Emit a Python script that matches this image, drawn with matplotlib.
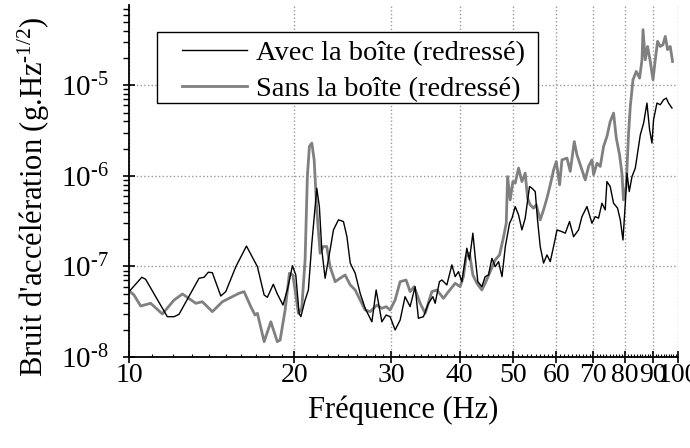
import numpy as np
import matplotlib
matplotlib.use("Agg")
import matplotlib.pyplot as plt
from matplotlib.patches import Rectangle
from matplotlib.ticker import FixedLocator, NullFormatter

plt.rcParams['font.family'] = ['Liberation Serif', 'DejaVu Serif']
plt.rcParams['mathtext.fontset'] = 'custom'
plt.rcParams['mathtext.rm'] = 'Liberation Serif'
plt.rcParams['mathtext.it'] = 'Liberation Serif:italic'

# spectre avec la boite (redresse)
freq_avec = [10.0, 10.55, 10.72, 11.74, 12.08, 12.33, 13.41, 13.70, 13.94, 14.18,
             14.69, 15.00, 15.65, 16.36, 17.13, 17.62, 17.86, 18.31, 18.62, 19.07,
             19.45, 19.84, 20.12, 20.40, 20.55, 20.92, 21.21, 21.52, 21.97, 22.21,
             22.44, 22.75, 23.23, 23.56, 24.06, 24.57, 24.93, 25.28, 25.81, 26.35,
             26.91, 27.68, 28.18, 28.86, 29.39, 29.88, 30.51, 31.16, 31.81, 32.49,
             33.18, 33.64, 34.36, 35.09, 35.74, 36.09, 36.74, 37.12, 37.90, 38.71,
             39.25, 39.79, 40.36, 41.22, 41.67, 42.27, 42.68, 43.16, 43.89, 44.51,
             45.13, 45.78, 46.42, 47.08, 47.76, 48.43, 49.30, 49.80, 50.48, 51.19,
             51.92, 52.64, 53.60, 54.14, 54.90, 55.43, 56.06, 56.85, 57.66, 58.47,
             59.46, 60.14, 61.41, 62.27, 63.39, 64.47, 65.83, 66.78, 68.19, 69.64,
             70.61, 71.59, 72.62, 73.62, 74.15, 75.18, 76.24, 77.53, 78.42, 79.31,
             80.09, 80.66, 81.43, 82.37, 83.52, 85.29, 86.48, 87.70, 88.67, 89.56,
             90.16, 91.45, 92.73, 94.02, 95.09, 96.01, 97.39]
bruit_avec = [5.27e-8, 7.60e-8, 7.22e-8, 2.79e-8, 2.79e-8, 2.96e-8, 7.41e-8, 7.60e-8, 8.63e-8, 8.54e-8,
              4.72e-8, 5.27e-8, 9.95e-8, 1.68e-7, 9.95e-8, 4.84e-8, 4.57e-8, 6.36e-8, 4.97e-8, 3.75e-8,
              5.74e-8, 1.02e-7, 8.05e-8, 3.04e-8, 2.79e-8, 4.26e-8, 5.50e-8, 1.80e-7, 7.31e-7, 4.58e-7,
              1.52e-7, 7.41e-8, 1.52e-7, 2.53e-7, 3.27e-7, 3.13e-7, 2.13e-7, 1.09e-7, 8.41e-8, 5.06e-8,
              3.45e-8, 2.45e-8, 5.50e-8, 2.45e-8, 2.91e-8, 2.79e-8, 1.99e-8, 2.56e-8, 4.64e-8, 3.60e-8,
              5.98e-8, 2.68e-8, 2.79e-8, 3.92e-8, 4.64e-8, 3.92e-8, 6.79e-8, 7.09e-8, 6.25e-8, 1.04e-7,
              7.72e-8, 8.76e-8, 6.79e-8, 1.59e-7, 1.18e-7, 2.33e-7, 1.28e-7, 6.79e-8, 5.98e-8, 7.72e-8,
              8.05e-8, 1.23e-7, 9.95e-8, 1.13e-7, 7.72e-8, 1.66e-7, 3.00e-7, 3.41e-7, 4.58e-7, 3.71e-7,
              2.53e-7, 3.41e-7, 7.62e-7, 7.31e-7, 6.71e-7, 3.27e-7, 1.66e-7, 1.09e-7, 1.34e-7, 1.13e-7,
              1.80e-7, 2.53e-7, 2.42e-7, 2.33e-7, 3.13e-7, 2.13e-7, 2.53e-7, 3.55e-7, 4.58e-7, 3.00e-7,
              3.55e-7, 3.41e-7, 4.99e-7, 4.21e-7, 8.65e-7, 7.62e-7, 4.99e-7, 4.40e-7, 3.27e-7, 1.96e-7,
              4.99e-7, 1.07e-6, 6.71e-7, 9.82e-7, 1.22e-6, 2.84e-6, 3.82e-6, 6.36e-6, 3.22e-6, 2.30e-6,
              4.16e-6, 6.36e-6, 6.09e-6, 6.91e-6, 7.22e-6, 6.36e-6, 5.60e-6]

# spectre sans la boite (redresse)
freq_sans = [10.0, 10.21, 10.50, 10.95, 11.50, 12.08, 12.51, 13.23, 13.60, 14.18,
             14.79, 15.86, 16.20, 16.66, 16.96, 17.13, 17.62, 18.12, 18.62, 18.84,
             19.24, 19.59, 19.87, 20.06, 20.34, 20.63, 20.92, 21.12, 21.30, 21.52,
             21.73, 21.97, 22.28, 22.59, 22.91, 23.23, 23.73, 24.23, 24.74, 25.28,
             25.81, 26.35, 26.91, 27.48, 28.27, 28.86, 29.39, 29.88, 30.51, 31.16,
             31.95, 32.49, 33.04, 33.89, 34.61, 35.59, 36.35, 37.37, 38.16, 39.25,
             40.07, 40.62, 41.09, 41.67, 42.27, 42.98, 43.89, 44.51, 45.46, 46.42,
             47.27, 48.08, 48.62, 48.89, 49.43, 49.99, 50.48, 51.19, 51.92, 52.64,
             53.16, 53.76, 54.51, 55.13, 56.06, 56.85, 57.66, 58.47, 59.29, 59.97,
             60.81, 61.41, 62.71, 63.58, 64.66, 65.39, 66.31, 67.71, 68.66, 69.64,
             70.12, 71.12, 72.10, 73.11, 74.15, 75.18, 76.24, 77.12, 78.18, 78.96,
             79.49, 80.39, 81.19, 81.78, 82.71, 83.86, 85.03, 85.90, 86.26, 87.09,
             87.93, 88.93, 89.94, 90.81, 91.69, 92.73, 93.78, 94.70, 95.61, 96.69,
             97.63]
bruit_sans = [5.40e-8, 4.84e-8, 3.66e-8, 3.92e-8, 2.99e-8, 4.26e-8, 4.97e-8, 3.92e-8, 4.08e-8, 3.17e-8,
              4.08e-8, 5.06e-8, 5.27e-8, 3.60e-8, 2.91e-8, 3.04e-8, 1.48e-8, 2.45e-8, 1.48e-8, 1.54e-8,
              3.31e-8, 8.41e-8, 8.05e-8, 5.50e-8, 3.04e-8, 3.45e-8, 1.18e-7, 9.82e-7, 2.11e-6, 2.30e-6,
              1.50e-6, 4.21e-7, 1.40e-7, 1.66e-7, 1.66e-7, 9.95e-8, 6.79e-8, 7.41e-8, 8.05e-8, 6.25e-8,
              5.50e-8, 4.26e-8, 3.31e-8, 3.17e-8, 3.75e-8, 3.45e-8, 3.60e-8, 3.31e-8, 4.26e-8, 6.79e-8,
              7.09e-8, 5.27e-8, 5.98e-8, 3.92e-8, 3.04e-8, 5.27e-8, 5.50e-8, 4.45e-8, 5.27e-8, 6.52e-8,
              5.98e-8, 7.72e-8, 1.28e-7, 1.40e-7, 8.05e-8, 6.52e-8, 5.50e-8, 6.52e-8, 8.76e-8, 1.18e-7,
              1.34e-7, 2.13e-7, 3.00e-7, 9.82e-7, 5.43e-7, 8.65e-7, 8.31e-7, 1.22e-6, 8.65e-7, 1.07e-6,
              5.67e-7, 4.78e-7, 4.40e-7, 4.78e-7, 3.27e-7, 4.21e-7, 5.67e-7, 7.96e-7, 1.16e-6, 1.44e-6,
              7.96e-7, 1.50e-6, 1.57e-6, 1.12e-6, 2.39e-6, 1.71e-6, 1.32e-6, 9.03e-7, 1.27e-6, 1.50e-6,
              1.03e-6, 1.38e-6, 1.27e-6, 2.11e-6, 2.72e-6, 3.98e-6, 4.93e-6, 2.61e-6, 1.71e-6, 1.07e-6,
              5.43e-7, 7.62e-7, 2.96e-6, 5.83e-6, 1.15e-5, 1.42e-5, 1.20e-5, 1.91e-5, 4.11e-5, 1.91e-5,
              2.68e-5, 1.83e-5, 1.15e-5, 1.91e-5, 3.05e-5, 2.68e-5, 2.80e-5, 3.46e-5, 2.47e-5, 2.68e-5,
              1.83e-5]

x_ticks = [10, 20, 30, 40, 50, 60, 70, 80, 90, 100]
y_ticks = [1e-8, 1e-7, 1e-6, 1e-5]
y_tick_labels = [r'$10^{\text{-}8}$', r'$10^{\text{-}7}$', r'$10^{\text{-}6}$', r'$10^{\text{-}5}$']

fig = plt.figure(figsize=(6.9, 4.48), dpi=100)
ax = fig.add_axes([0.187, 0.203, 0.796, 0.786])

ax.plot(freq_avec, bruit_avec, color='black', lw=1.0, label='Avec la boîte (redressé)', zorder=3)
ax.plot(freq_sans, bruit_sans, color='#808080', lw=2.0, label='Sans la boîte (redressé)', zorder=2)

ax.set_xscale('log')
ax.set_yscale('log')
ax.set_xlim(10, 100)
ax.set_ylim(1e-8, 7.7e-5)

ax.xaxis.set_major_locator(FixedLocator(x_ticks))
ax.set_xticklabels([str(t) for t in x_ticks])
minors = [v for v in range(11, 100) if v % 10 != 0]
ax.xaxis.set_minor_locator(FixedLocator(minors))
ax.xaxis.set_minor_formatter(NullFormatter())

ax.yaxis.set_major_locator(FixedLocator(y_ticks))
ax.set_yticklabels(y_tick_labels)
ymin = [m * 10.0 ** e for e in range(-8, -4) for m in range(2, 10)]
ax.yaxis.set_minor_locator(FixedLocator(ymin))
ax.yaxis.set_minor_formatter(NullFormatter())

ax.tick_params(axis='both', which='major', direction='inout', length=9, width=1.2)
ax.tick_params(axis='x', which='major', labelsize=20, pad=0)
ax.tick_params(axis='y', which='major', labelsize=21, pad=10)
ax.tick_params(axis='y', which='minor', direction='out', length=4, width=1.0)
ax.tick_params(axis='x', which='minor', direction='in', length=2.5, width=0.8)

ax.spines['top'].set_visible(False)
ax.spines['right'].set_visible(False)
ax.spines['left'].set_linewidth(1.3)
ax.spines['bottom'].set_linewidth(1.3)

ax.grid(True, which='major', linestyle=':', color='#999999', lw=1.0)

ax.set_xlabel('Fréquence (Hz)', fontsize=22, labelpad=5)
ax.set_ylabel(r"Bruit d'accélération (g.Hz$^{\text{-1/2}}$)", fontsize=22)
ax.yaxis.set_label_coords(-0.14, 0.455)

# cadre de la legende
ax.add_patch(Rectangle((0.051, 0.7216), 0.694, 0.2014, transform=ax.transAxes,
                       facecolor='white', edgecolor='black', lw=1.0, zorder=4))
leg = ax.legend(loc='upper left', bbox_to_anchor=(0.096, 0.90), fontsize=20.5,
                handlelength=2.3, handletextpad=0.32, labelspacing=0.36, borderpad=0,
                borderaxespad=0, frameon=False)
leg.set_zorder(5)

fig.savefig('out.png', dpi=100)
